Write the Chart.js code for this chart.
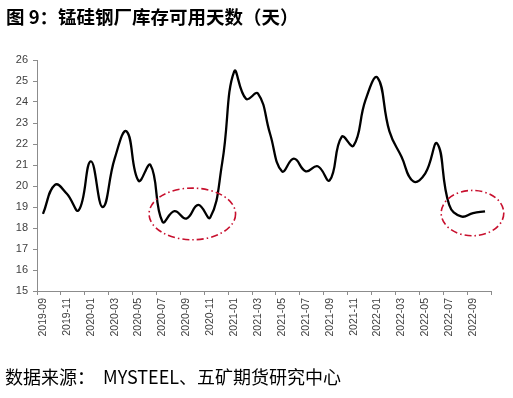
<!DOCTYPE html>
<html>
<head>
<meta charset="utf-8">
<script src="https://cdn.jsdelivr.net/npm/chart.js@4/dist/chart.umd.min.js"></script>
<style>
  html, body { margin: 0; padding: 0; background: #fff; }
  #wrap { position: relative; width: 513px; height: 398px; overflow: hidden; }
  #c { position: absolute; left: 0; top: 0; }
  .title { position: absolute; left: 6px; top: 3px; font: bold 18.5px "Noto Sans CJK SC", sans-serif; color: #000; white-space: pre; }
  .src { position: absolute; left: 5px; top: 363px; font: 18px "Noto Sans CJK SC", sans-serif; color: #000; white-space: pre; }
</style>
</head>
<body>
<div id="wrap">
  <canvas id="c" width="513" height="398"></canvas>
  <div class="title">图 9：锰硅钢厂库存可用天数（天）</div>
  <div class="src">数据来源：  MYSTEEL、五矿期货研究中心</div>
</div>
<script>
// Monthly categories
const months = [
  '2019-09','2019-10','2019-11','2019-12','2020-01','2020-02','2020-03','2020-04','2020-05','2020-06',
  '2020-07','2020-08','2020-09','2020-10','2020-11','2020-12','2021-01','2021-02','2021-03','2021-04',
  '2021-05','2021-06','2021-07','2021-08','2021-09','2021-10','2021-11','2021-12','2022-01','2022-02',
  '2022-03','2022-04','2022-05','2022-06','2022-07','2022-08','2022-09','2022-10'
];
// 锰硅钢厂库存可用天数 (days)
const stockDays = [
  18.67, 20.05, 19.63, 18.85, 21.17, 19.00, 21.30, 22.60, 20.25, 21.00,
  18.30, 18.80, 18.45, 19.10, 18.50, 21.10, 25.45, 24.15, 24.40, 22.50,
  20.70, 21.30, 20.70, 20.94, 20.27, 22.34, 21.92, 24.10, 25.16, 22.60,
  21.40, 20.22, 20.60, 22.02, 19.10, 18.55, 18.71, 18.79
];
// y axis range / ticks
const yMin = 15, yMax = 26, yStep = 1;
// highlight ellipses (center in month-axis units / value units, radii in same units)
const ellCenterX = [13.0, 36.45];
const ellCenterY = [18.67, 18.71];
const ellRadiusX = [3.62, 2.62];
const ellRadiusY = [1.23, 1.08];

const points = stockDays.map((v, i) => ({ x: i + 0.5, y: v }));

const ellipsePlugin = {
  id: 'ellipses',
  afterDraw(chart) {
    const { ctx, scales: { x, y } } = chart;
    ctx.save();
    ctx.strokeStyle = '#C8102E';
    ctx.lineWidth = 1.6;
    ctx.setLineDash([7, 3, 1.5, 3]);
    for (let k = 0; k < ellCenterX.length; k++) {
      const cx = x.getPixelForValue(ellCenterX[k]);
      const cy = y.getPixelForValue(ellCenterY[k]);
      const rx = Math.abs(x.getPixelForValue(ellCenterX[k] + ellRadiusX[k]) - cx);
      const ry = Math.abs(y.getPixelForValue(ellCenterY[k] + ellRadiusY[k]) - cy);
      ctx.beginPath();
      ctx.ellipse(cx, cy, rx, ry, 0, 0, Math.PI * 2);
      ctx.stroke();
    }
    ctx.restore();
  }
};

new Chart(document.getElementById('c'), {
  type: 'line',
  data: {
    datasets: [{
      data: points,
      borderColor: '#000',
      borderWidth: 2.3,
      pointRadius: 0,
      tension: 0.45,
      fill: false
    }]
  },
  options: {
    responsive: false,
    animation: false,
    layout: { padding: { top: 60, right: 22, left: 0, bottom: 0 } },
    plugins: { legend: { display: false }, tooltip: { enabled: false } },
    scales: {
      x: {
        type: 'linear',
        min: 0,
        max: months.length,
        afterFit(s) { s.height = 107; },
        grid: { display: true, drawOnChartArea: false, drawTicks: true, tickLength: 4, color: '#8c8c8c' },
        border: { display: true, color: '#8c8c8c', width: 1 },
        ticks: {
          stepSize: 2,
          autoSkip: false,
          maxRotation: 90,
          minRotation: 90,
          labelOffset: 6,
          padding: 3,
          color: '#404040',
          font: { family: '"Liberation Sans", Arial, sans-serif', size: 10.5 },
          callback: (v) => (months[v] !== undefined ? months[v] : '')
        }
      },
      y: {
        min: yMin,
        max: yMax,
        afterFit(s) { s.width = 37; },
        grid: { display: true, drawOnChartArea: false, drawTicks: true, tickLength: 4, color: '#8c8c8c' },
        border: { display: true, color: '#8c8c8c', width: 1 },
        ticks: {
          stepSize: yStep,
          padding: 5,
          color: '#404040',
          font: { family: '"Liberation Sans", Arial, sans-serif', size: 11 }
        }
      }
    }
  },
  plugins: [ellipsePlugin]
});
</script>
</body>
</html>
